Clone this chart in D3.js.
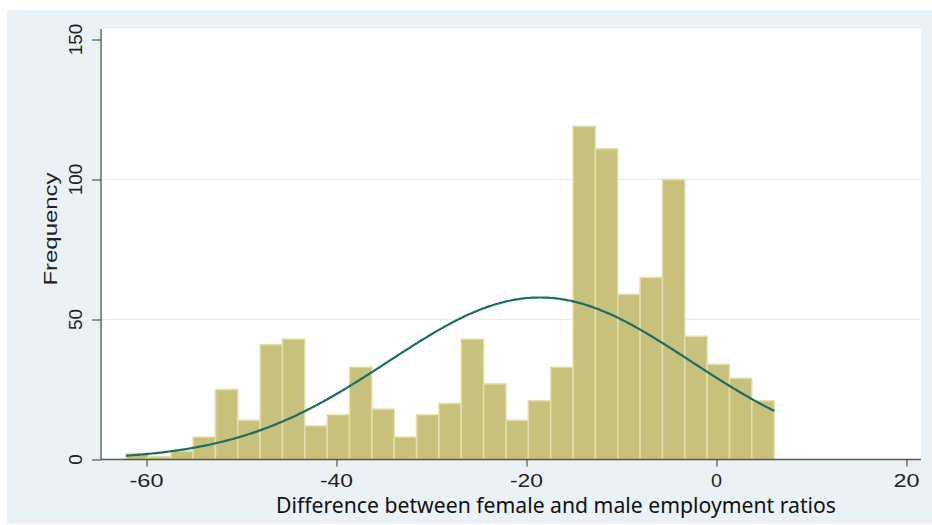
<!DOCTYPE html>
<html>
<head>
<meta charset="utf-8">
<script src="https://cdn.jsdelivr.net/npm/d3@7"></script>
<style>
  html, body { margin: 0; padding: 0; background: #ffffff; }
  svg { display: block; }
</style>
</head>
<body>
<svg id="chart" width="932" height="525"></svg>
<script>
// Histogram bins: first lower edge, common width, and the count in each bin
const binStart = -62.16;
const binWidth = 2.353;
const counts = [2, 1, 3, 8, 25, 14, 41, 43, 12, 16, 33, 18, 8, 16, 20,
                43, 27, 14, 21, 33, 119, 111, 59, 65, 100, 44, 34, 29, 21];

// Normal density overlay parameters
const normalMean = -18.6;
const normalSD = 15.9;

// Axis ticks
const xTicks = [-60, -40, -20, 0, 20];
const yTicks = [0, 50, 100, 150];
const yGrid = [50, 100];

const xTitle = "Difference between female and male employment ratios";
const yTitle = "Frequency";

const svg = d3.select("#chart");

// Scales
const x = d3.scaleLinear().domain([-64.79, 21.53]).range([101, 921]);
const y = d3.scaleLinear().domain([0, 153.75]).range([459.5, 29]);

// Outer panel and plot region
svg.append("rect").attr("x", 7).attr("y", 10).attr("width", 925).attr("height", 514)
  .attr("fill", "#eaf2f5");
svg.append("rect").attr("x", x.range()[0]).attr("y", y.range()[1])
  .attr("width", x.range()[1] - x.range()[0]).attr("height", y.range()[0] - y.range()[1])
  .attr("fill", "#ffffff");

// Horizontal gridlines
svg.append("g").selectAll("line").data(yGrid).join("line")
  .attr("x1", x.range()[0]).attr("x2", x.range()[1])
  .attr("y1", d => y(d)).attr("y2", d => y(d))
  .attr("stroke", "#e5eff3").attr("stroke-width", 1.6);

// Bars
const bins = counts.map((c, i) => ({ x0: binStart + i * binWidth, x1: binStart + (i + 1) * binWidth, n: c }));
svg.append("g").selectAll("rect").data(bins).join("rect")
  .attr("x", d => x(d.x0))
  .attr("y", d => y(d.n))
  .attr("width", d => x(d.x1) - x(d.x0))
  .attr("height", d => y(0) - y(d.n))
  .attr("fill", "#c8c17b")
  .attr("stroke", "#e3dfad")
  .attr("stroke-width", 1.5);

// Normal curve scaled to frequency
const total = d3.sum(counts);
const binEnd = binStart + counts.length * binWidth;
const density = v => total * binWidth / (normalSD * Math.sqrt(2 * Math.PI)) *
  Math.exp(-0.5 * Math.pow((v - normalMean) / normalSD, 2));
const curvePts = d3.range(0, 301).map(k => binStart + (binEnd - binStart) * k / 300);
svg.append("path")
  .datum(curvePts)
  .attr("d", d3.line().x(v => x(v)).y(v => y(density(v))).curve(d3.curveLinear))
  .attr("fill", "none")
  .attr("stroke", "#1b6d65")
  .attr("stroke-width", 2.2);

// Y axis
const yAxis = svg.append("g").attr("transform", `translate(${x.range()[0]},0)`)
  .call(d3.axisLeft(y).tickValues(yTicks).tickSize(9).tickFormat(""));
yAxis.select(".domain").attr("stroke", "#555555").attr("stroke-width", 1.3)
  .attr("d", `M0,${y.range()[1]}V${y.range()[0]}`);
yAxis.selectAll(".tick line").attr("stroke", "#555555").attr("stroke-width", 1.2);

svg.append("g").selectAll("text").data(yTicks).join("text")
  .attr("transform", d => `translate(82,${y(d)}) rotate(-90)`)
  .attr("text-anchor", "middle")
  .attr("font-family", "Liberation Sans, Arial, sans-serif")
  .attr("font-size", 19)
  .attr("fill", "#222222")
  .text(d => d);

// X axis
const xAxis = svg.append("g").attr("transform", `translate(0,${y(0)})`)
  .call(d3.axisBottom(x).tickValues(xTicks).tickSize(7).tickFormat(""));
xAxis.select(".domain").attr("stroke", "#555555").attr("stroke-width", 1.3)
  .attr("d", `M${x.range()[0]},0H${x.range()[1]}`);
xAxis.selectAll(".tick line").attr("stroke", "#555555").attr("stroke-width", 1.2);

const xLabelLen = { "-60": 34, "-40": 33, "-20": 33, "0": 11, "20": 26 };
svg.append("g").selectAll("text").data(xTicks).join("text")
  .attr("x", d => x(d))
  .attr("y", 487)
  .attr("text-anchor", "middle")
  .attr("font-family", "Liberation Sans, Arial, sans-serif")
  .attr("font-size", 18)
  .attr("fill", "#222222")
  .attr("textLength", d => xLabelLen[String(d)])
  .attr("lengthAdjust", "spacingAndGlyphs")
  .text(d => d);

// Axis titles
svg.append("text")
  .attr("x", 556).attr("y", 513)
  .attr("text-anchor", "middle")
  .attr("font-family", "Noto Sans, Open Sans, sans-serif")
  .attr("font-size", 21)
  .attr("fill", "#111111")
  .attr("textLength", 560)
  .attr("lengthAdjust", "spacingAndGlyphs")
  .text(xTitle);

svg.append("text")
  .attr("transform", "translate(57,229) rotate(-90)")
  .attr("text-anchor", "middle")
  .attr("font-family", "Liberation Sans, Arial, sans-serif")
  .attr("font-size", 19)
  .attr("fill", "#222222")
  .attr("textLength", 113)
  .attr("lengthAdjust", "spacingAndGlyphs")
  .text(yTitle);
</script>
</body>
</html>
